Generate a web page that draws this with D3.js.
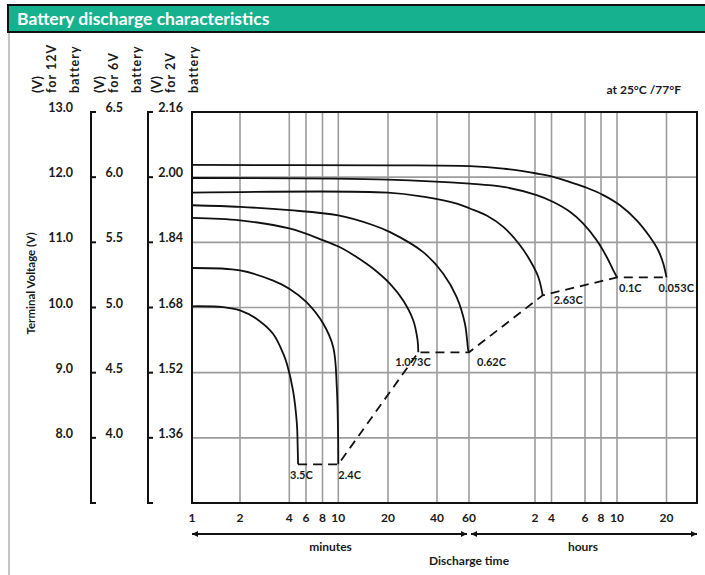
<!DOCTYPE html>
<html>
<head>
<meta charset="utf-8">
<script src="https://cdn.jsdelivr.net/npm/d3@7"></script>
<style>
body { margin: 0; background: #fff; }
text { font-family: Lato, "Open Sans", sans-serif; font-weight: bold; fill: #1a1a1a; }
</style>
</head>
<body>
<svg id="chart" width="705" height="575"></svg>
<script>
//////////////////////////////////////////////////
// data : time in minutes, voltage per 2V cell
const xTickMinutes = [1, 2, 4, 6, 8, 10, 20, 40, 60, 120, 240, 360, 480, 600, 1200];
const xTickLabels = ["1", "2", "4", "6", "8", "10", "20", "40", "60", "2", "4", "6", "8", "10", "20"];

const yTicks2V = [2.16, 2.00, 1.84, 1.68, 1.52, 1.36];
const yLabels12V = ["13.0", "12.0", "11.0", "10.0", "9.0", "8.0"];
const yLabels6V = ["6.5", "6.0", "5.5", "5.0", "4.5", "4.0"];
const yLabels2V = ["2.16", "2.00", "1.84", "1.68", "1.52", "1.36"];
const yBottom2V = 1.20;

const rateLabels = ["3.5C", "2.4C", "1.073C", "0.62C", "2.63C", "0.1C", "0.053C"];

const curve35 = [[1, 1.683], [1.57, 1.681], [2, 1.673], [2.53, 1.652], [3.19, 1.615], [3.68, 1.566],
  [3.87, 1.541], [4.38, 1.476], [4.81, 1.394], [4.9, 1.34], [4.95, 1.295]];
const curve24 = [[1, 1.777], [2, 1.771], [3.19, 1.746], [4, 1.726], [6.05, 1.693], [8.09, 1.640],
  [9.32, 1.582], [9.79, 1.484], [9.96, 1.377], [10, 1.295]];
const curve1073 = [[1, 1.900], [2, 1.894], [4, 1.874], [8.09, 1.845], [10.24, 1.828], [12.9, 1.804],
  [16.3, 1.775], [20.6, 1.738], [24.8, 1.697], [28.6, 1.648], [30.4, 1.599], [30.7, 1.570]];
const curve062 = [[1, 1.931], [2, 1.927], [4, 1.919], [10, 1.906], [16.3, 1.882], [20.6, 1.865],
  [32.9, 1.816], [43.3, 1.763], [51.4, 1.705], [57, 1.640], [59.5, 1.574], [60, 1.570]];
const curve263 = [[1, 1.962], [20, 1.962], [32.9, 1.952], [51.4, 1.935], [60.6, 1.923], [72.2, 1.906],
  [86, 1.878], [102.5, 1.833], [113.8, 1.796], [137.8, 1.755], [165.8, 1.710]];
const curve01 = [[1, 1.998], [20, 1.994], [60.6, 1.984], [86, 1.976], [128.9, 1.956], [245.3, 1.939],
  [300, 1.915], [352.6, 1.886], [444, 1.845], [520, 1.804], [570, 1.771], [600, 1.754]];
const curve0053 = [[1, 2.030], [20, 2.029], [60.6, 2.027], [86, 2.021], [128.9, 2.009], [245.3, 2.001],
  [300, 1.988], [371, 1.974], [495.6, 1.956], [625.6, 1.931], [790.6, 1.894], [952, 1.853],
  [1070, 1.820], [1147, 1.788], [1200, 1.754]];

const curves = [curve35, curve24, curve1073, curve062, curve263, curve01, curve0053];

//////////////////////////////////////////////////
// layout
const plot = { left: 192, top: 112, right: 697, bottom: 503 };
const pw = plot.right - plot.left, ph = plot.bottom - plot.top;
// the time axis of the original is hand spaced, not a clean log
const xTickPx = [0, 48, 97.3, 114, 130.5, 146.3, 196, 245, 277, 343, 359.5, 393, 409, 425, 474.5];
const xEndMinutes = 2400;
const labelOffsets = [[-8, 15], [0, 15], [-23, 14], [8, 14], [11, 9], [2, 15], [-8, 15]];

const svg = d3.select("#chart");

const x = d3.scaleLog()
  .domain(xTickMinutes.concat([xEndMinutes]))
  .range(xTickPx.concat([pw]));
const y = d3.scaleLinear().domain([yBottom2V, 2.16]).range([ph, 0]);

// header bar
svg.append("rect").attr("x", 8).attr("y", 5).attr("width", 710).attr("height", 27)
  .attr("fill", "#16b290").attr("stroke", "#111").attr("stroke-width", 2);
svg.append("text").attr("x", 17).attr("y", 25).text("Battery discharge characteristics")
  .style("fill", "#fff").style("font-size", "17.5px");
svg.append("line").attr("x1", 9).attr("x2", 9).attr("y1", 33).attr("y2", 575)
  .attr("stroke", "#c4c4c4").attr("stroke-width", 2);

// voltage scales on the left
function voltAxis(bx) {
  const g = svg.append("g");
  g.append("path")
    .attr("d", "M" + (bx + 5) + "," + (plot.top + y(2.16)) + "H" + bx + "V" + (plot.top + y(yBottom2V)) + "H" + (bx + 5))
    .attr("fill", "none").attr("stroke", "#111").attr("stroke-width", 2);
  g.selectAll("line").data(yTicks2V.slice(1)).join("line")
    .attr("x1", bx).attr("x2", bx + 5)
    .attr("y1", d => plot.top + y(d)).attr("y2", d => plot.top + y(d))
    .attr("stroke", "#111").attr("stroke-width", 2);
}
voltAxis(91);
voltAxis(148);

function voltLabels(labels, rx) {
  svg.append("g").selectAll("text").data(yTicks2V).join("text")
    .attr("x", rx).attr("y", d => plot.top + y(d))
    .attr("text-anchor", "end").style("font-size", "12.5px")
    .text((d, i) => labels[i]);
}
voltLabels(yLabels12V, 73);
voltLabels(yLabels6V, 123);
voltLabels(yLabels2V, 183);

// rotated headings above the voltage scales
function rotHead(x0, txt) {
  const g = svg.append("g").style("font-size", "12.5px");
  g.append("text").attr("transform", "translate(" + (x0 + 9) + ",93) rotate(-90)")
    .style("font-size", "13.5px").text("(V)");
  g.append("text").attr("transform", "translate(" + (x0 + 23) + ",93) rotate(-90)")
    .style("letter-spacing", "1px").text(txt);
  g.append("text").attr("transform", "translate(" + (x0 + 45.5) + ",93) rotate(-90)")
    .style("letter-spacing", "1px").text("battery");
}
rotHead(33, "for 12V");
rotHead(95, "for 6V");
rotHead(152, "for 2V");

svg.append("text").attr("transform", "translate(35,283.5) rotate(-90)")
  .attr("text-anchor", "middle").style("font-size", "11.5px").text("Terminal Voltage (V)");

svg.append("text").attr("x", 681).attr("y", 94).attr("text-anchor", "end")
  .style("font-size", "12px").text("at 25°C /77°F");

// plot area
const g = svg.append("g").attr("transform", "translate(" + plot.left + "," + plot.top + ")");

g.selectAll("line.vgrid").data(xTickMinutes.slice(1)).join("line").attr("class", "vgrid")
  .attr("x1", d => x(d)).attr("x2", d => x(d)).attr("y1", 0).attr("y2", ph)
  .attr("stroke", "#9c9c9c").attr("stroke-width", 1.6);
g.selectAll("line.hgrid").data(yTicks2V.slice(1)).join("line").attr("class", "hgrid")
  .attr("x1", 0).attr("x2", pw).attr("y1", d => y(d)).attr("y2", d => y(d))
  .attr("stroke", "#9c9c9c").attr("stroke-width", 1.6);

g.append("rect").attr("width", pw).attr("height", ph)
  .attr("fill", "none").attr("stroke", "#111").attr("stroke-width", 2);

const line = d3.line()
  .x(d => x(d[0])).y(d => y(d[1]))
  .curve(d3.curveCatmullRom.alpha(0.5));

g.selectAll("path.curve").data(curves).join("path").attr("class", "curve")
  .attr("d", line)
  .attr("fill", "none").attr("stroke", "#111").attr("stroke-width", 1.8);

// end voltage line joining the curve ends
const ends = curves.map(c => c[c.length - 1]);
g.append("path")
  .attr("d", d3.line().x(d => x(d[0])).y(d => y(d[1]))(ends))
  .attr("fill", "none").attr("stroke", "#111").attr("stroke-width", 1.8)
  .attr("stroke-dasharray", "9,6");

g.selectAll("text.rate").data(ends).join("text").attr("class", "rate")
  .attr("x", (d, i) => x(d[0]) + labelOffsets[i][0])
  .attr("y", (d, i) => y(d[1]) + labelOffsets[i][1])
  .style("font-size", "11px")
  .text((d, i) => rateLabels[i]);

// time axis
g.selectAll("text.xt").data(xTickMinutes).join("text").attr("class", "xt")
  .attr("x", d => x(d)).attr("y", ph + 19)
  .attr("text-anchor", "middle").style("font-size", "12px")
  .text((d, i) => xTickLabels[i]);

const defs = svg.append("defs");
defs.append("marker").attr("id", "ah").attr("viewBox", "0 0 10 10")
  .attr("refX", 10).attr("refY", 5).attr("markerWidth", 6).attr("markerHeight", 8)
  .attr("markerUnits", "userSpaceOnUse").attr("orient", "auto-start-reverse")
  .append("path").attr("d", "M0,0L10,5L0,10Z").attr("fill", "#111");

const ay = ph + 31;
const x60 = x(60);
g.append("line").attr("x1", 0).attr("x2", x60 - 2).attr("y1", ay).attr("y2", ay)
  .attr("stroke", "#111").attr("stroke-width", 2)
  .attr("marker-start", "url(#ah)").attr("marker-end", "url(#ah)");
g.append("line").attr("x1", x60 + 2).attr("x2", pw).attr("y1", ay).attr("y2", ay)
  .attr("stroke", "#111").attr("stroke-width", 2)
  .attr("marker-start", "url(#ah)").attr("marker-end", "url(#ah)");

g.append("text").attr("x", x60 / 2).attr("y", ph + 48).attr("text-anchor", "middle")
  .style("font-size", "12px").text("minutes");
g.append("text").attr("x", (x60 + pw) / 2).attr("y", ph + 48).attr("text-anchor", "middle")
  .style("font-size", "12px").text("hours");
g.append("text").attr("x", x60).attr("y", ph + 62).attr("text-anchor", "middle")
  .style("font-size", "12px").text("Discharge time");
</script>
</body>
</html>
